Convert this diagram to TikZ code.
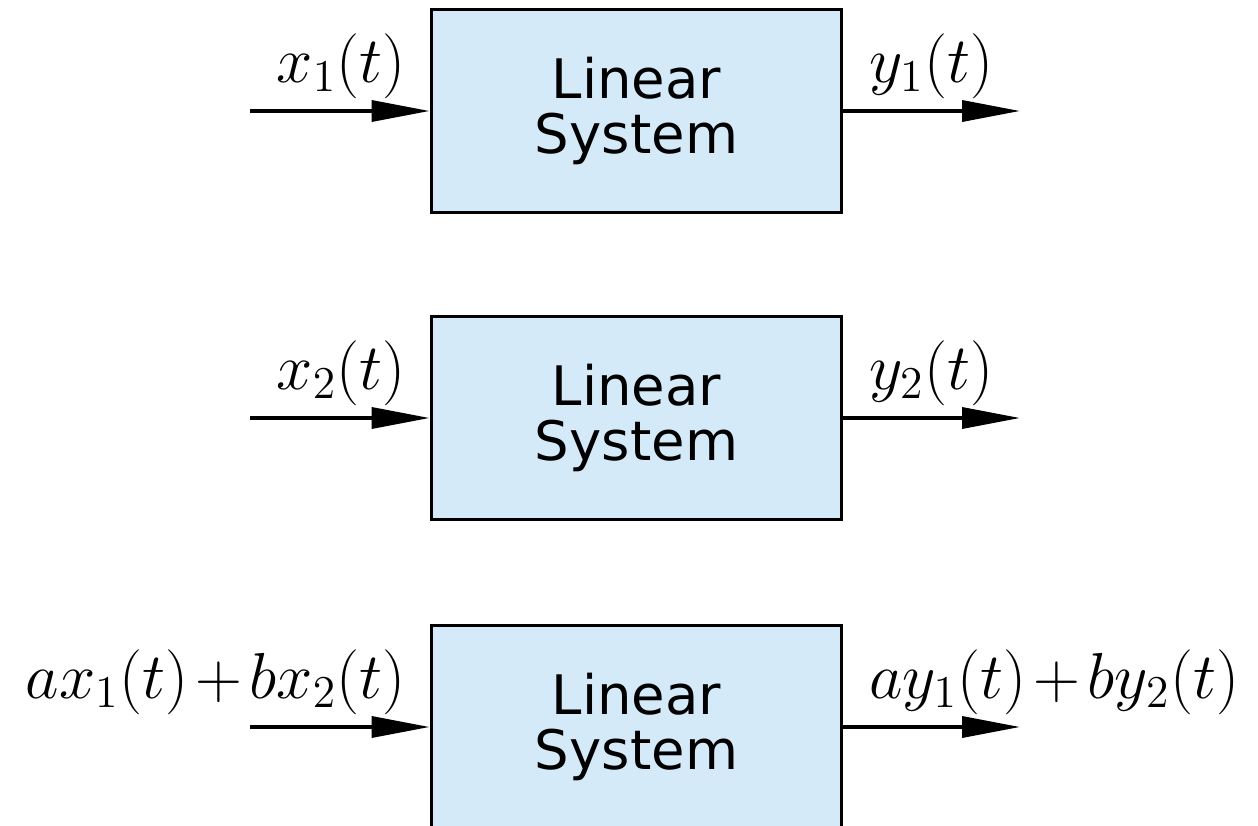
\RequirePackage{fix-cm}
\documentclass[tikz,border=0pt]{standalone}
\usepackage{fontspec}
\usetikzlibrary{arrows.meta, positioning}
\newfontfamily\sysfont{DejaVu Sans}
\definecolor{sysblue}{RGB}{212,234,249}

\begin{document}
\begin{tikzpicture}[>={Triangle[length=0.58cm, width=0.21cm]},
  sysbox/.style={draw, line width=1.1pt, fill=sysblue, minimum width=4.10cm,
    minimum height=2.03cm, inner sep=0pt, align=center,
    font=\sysfont\fontsize{15.5}{15.6}\selectfont},
  sig/.style={->, line width=1pt},
  lbl/.style={inner sep=0pt, font=\fontsize{18.5}{22}\selectfont}]
  \useasboundingbox (0,0) rectangle (12.58,-8.26);
  % Three copies of the same system, one below the other
  \node[sysbox] (sys1) at (6.365,-1.11) {Linear\\System};
  \node[sysbox] (sys2) at (6.365,-4.18) {Linear\\System};
  \node[sysbox] (sys3) at (6.365,-7.27) {Linear\\System};
  % Free ends of the signal lines
  \coordinate (in1) at (2.50,-1.11);
  \coordinate (in2) at (2.50,-4.18);
  \coordinate (in3) at (2.50,-7.27);
  \coordinate (out1) at (10.20,-1.11);
  \coordinate (out2) at (10.20,-4.18);
  \coordinate (out3) at (10.20,-7.27);
  % Inputs and outputs
  \draw[sig] (in1) -- (sys1.west);
  \draw[sig] (sys1.east) -- (out1);
  \draw[sig] (in2) -- (sys2.west);
  \draw[sig] (sys2.east) -- (out2);
  \draw[sig] (in3) -- (sys3.west);
  \draw[sig] (sys3.east) -- (out3);
  % Signal names
  \node[lbl, above left=0.12cm and 0.23cm of sys1.west] (x1) {$x_1(t)$};
  \node[lbl, above right=0.12cm and 0.25cm of sys1.east] (y1) {$y_1(t)$};
  \node[lbl, above left=0.12cm and 0.23cm of sys2.west] (x2) {$x_2(t)$};
  \node[lbl, above right=0.12cm and 0.25cm of sys2.east] (y2) {$y_2(t)$};
  \node[lbl, above left=0.12cm and 0.23cm of sys3.west] (x12)
    {$ax_1(t)\mkern2mu{+}\mkern2mu bx_2(t)$};
  \node[lbl, above right=0.12cm and 0.25cm of sys3.east] (y12)
    {$ay_1(t)\mkern2mu{+}\mkern2mu by_2(t)$};
\end{tikzpicture}
\end{document}
